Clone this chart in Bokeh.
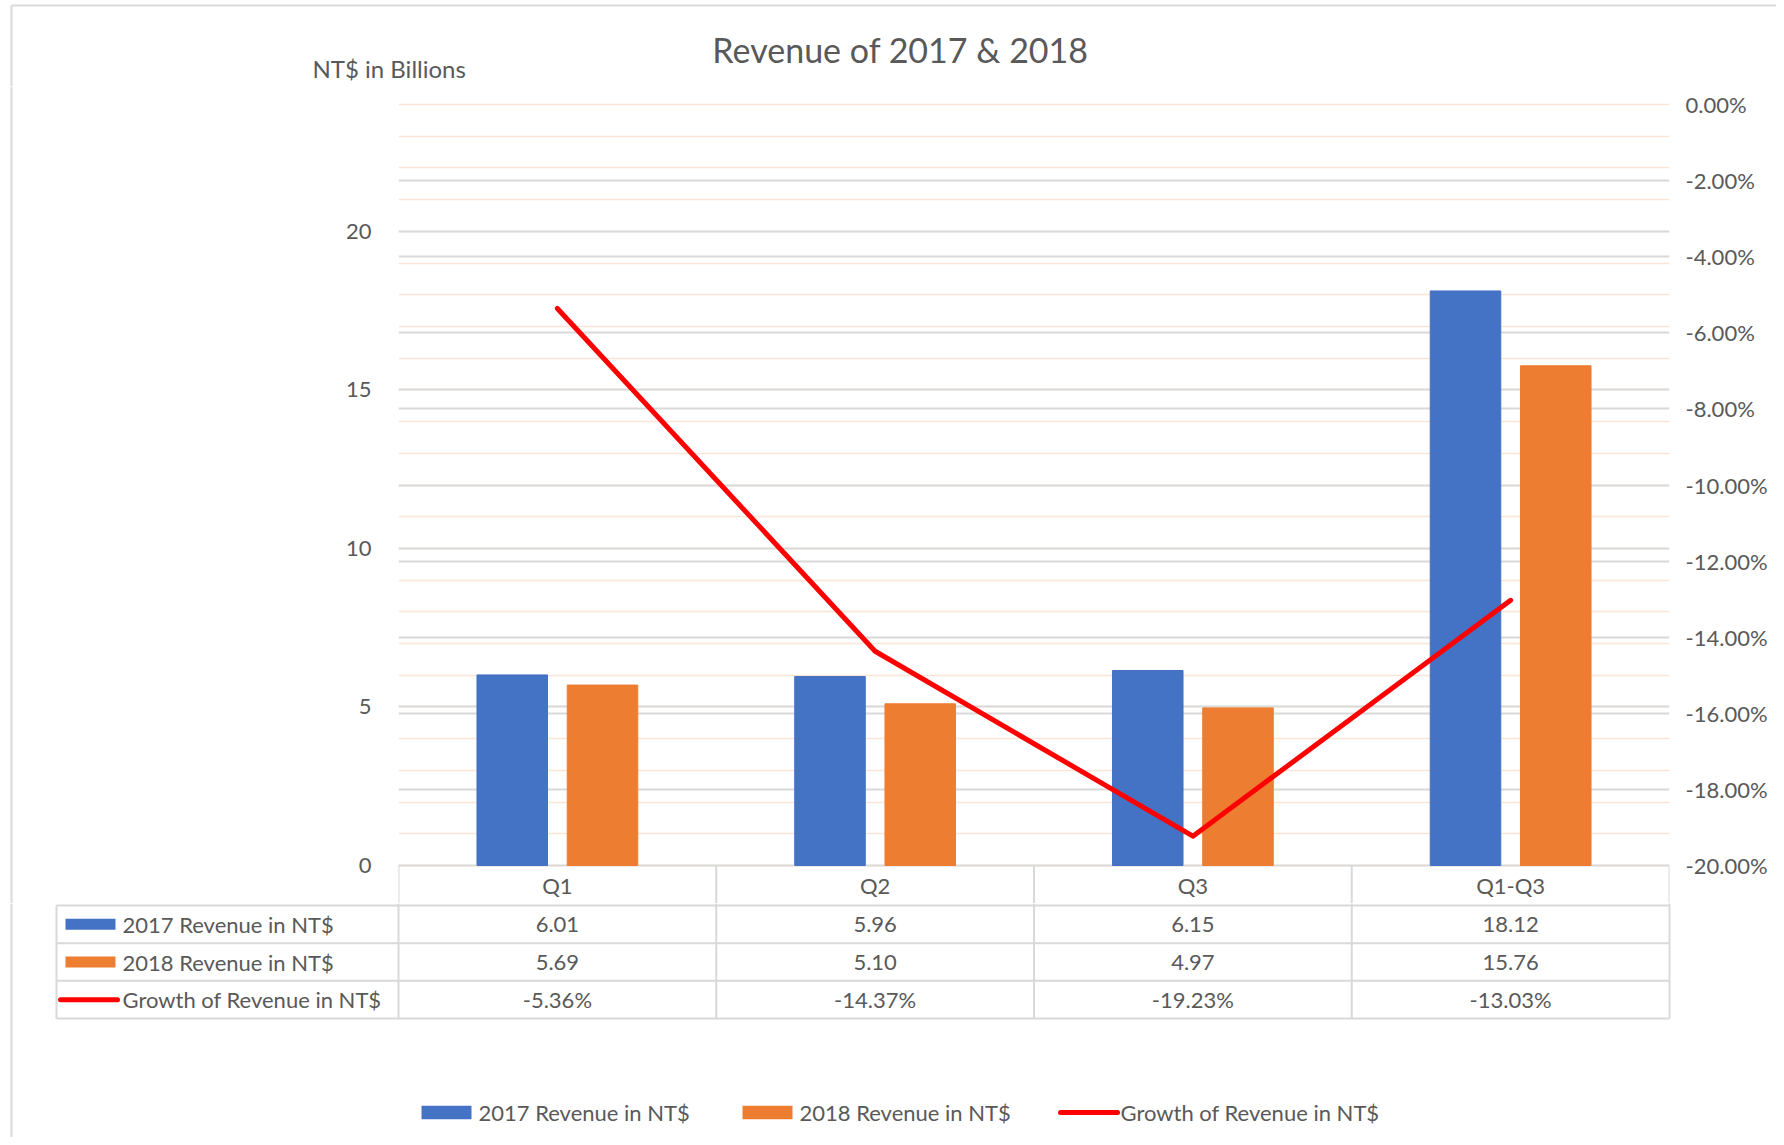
from bokeh.plotting import figure
from bokeh.models import (Range1d, LinearAxis, FixedTicker, NumeralTickFormatter, Grid,
                          ColumnDataSource, FactorRange)
from bokeh.transform import dodge
from bokeh.layouts import column, row
from bokeh.embed import file_html
from bokeh.resources import INLINE
from bokeh.core.properties import value

# ---------------- data ----------------
categories = ["Q1", "Q2", "Q3", "Q1-Q3"]
rev_2017 = [6.01, 5.96, 6.15, 18.12]
rev_2018 = [5.69, 5.10, 4.97, 15.76]
growth = [-0.0536, -0.1437, -0.1923, -0.1303]
series_names = ["2017 Revenue in NT$", "2018 Revenue in NT$", "Growth of  Revenue in NT$"]
left_ticks = [0, 5, 10, 15, 20]
left_minor = list(range(0, 25))
right_ticks = [-0.20, -0.18, -0.16, -0.14, -0.12, -0.10, -0.08, -0.06, -0.04, -0.02, 0.0]
title_text = "Revenue of 2017 & 2018"
y_label_text = "NT$ in Billions"

# ---------------- style ----------------
BLUE, ORANGE, RED = "#4472C4", "#ED7D31", "#FF0000"
TXT = "#595959"
GRID = "#D9D9D9"
MINOR = "#FBE5D6"
BORDER = "#DADADA"
FONT = "Lato"
FS = "22px"

# ---------------- layout (page px) ----------------
PAGE_W = 1776
LEFT_STRIP = 20
BORDER_X, BORDER_Y = 11, 5
FRAME_L, FRAME_R = 398, 1669
TOP_SPLIT = 86
FRAME_T = 98
Y_TOP_PX, Y0_PX = 104, 865
SPLIT = 903
PAGE_BOTTOM = 1137
Y_MAX = 24
R_MIN = -0.20
ppu = (Y0_PX - Y_TOP_PX) / Y_MAX            # px per left unit
ppx = (FRAME_R - FRAME_L) / len(categories)  # px per category
Y_BOTTOM = -(SPLIT - Y0_PX) / ppu
Y_END = Y_MAX + (Y_TOP_PX - FRAME_T) / ppu
rpp = -R_MIN / (Y0_PX - Y_TOP_PX)            # fraction per px on right axis
R_START = R_MIN - (SPLIT - Y0_PX) * rpp
R_END = (Y_TOP_PX - FRAME_T) * rpp


def ux(px):
    return (px - FRAME_L) / ppx


def no_align(p):
    try:
        p.frame_align = False
    except Exception:
        pass


def bare(p):
    p.outline_line_color = None
    p.grid.visible = False
    no_align(p)


# ---------------- title strip ----------------
pT = figure(width=PAGE_W, height=TOP_SPLIT, x_range=Range1d(0, PAGE_W),
            y_range=Range1d(-TOP_SPLIT, 0), x_axis_location=None, y_axis_location=None,
            output_backend="svg", toolbar_location=None, min_border=0)
bare(pT)
pT.segment(x0=[BORDER_X, BORDER_X], x1=[PAGE_W, BORDER_X], y0=[-BORDER_Y, -BORDER_Y],
           y1=[-BORDER_Y, -TOP_SPLIT], line_color=BORDER, line_width=2)
pT.text(x=[900], y=[-49], text=[title_text], text_align="center", text_baseline="middle",
        text_font=value(FONT), text_font_size="34px", text_color=TXT)
pT.text(x=[312], y=[-68], text=[y_label_text], text_align="left", text_baseline="middle",
        text_font=value(FONT), text_font_size="24px", text_color=TXT)

# ---------------- left border strip ----------------
pL = figure(width=LEFT_STRIP, height=SPLIT - TOP_SPLIT, x_range=Range1d(0, LEFT_STRIP),
            y_range=Range1d(0, 1), x_axis_location=None, y_axis_location=None,
            output_backend="svg", toolbar_location=None, min_border=0)
bare(pL)
pL.segment(x0=[BORDER_X], x1=[BORDER_X], y0=[0], y1=[1], line_color=BORDER, line_width=2)

# ---------------- chart figure ----------------
src = ColumnDataSource(dict(cat=categories, r17=rev_2017, r18=rev_2018, g=growth))

pA = figure(width=PAGE_W - LEFT_STRIP, height=SPLIT - TOP_SPLIT,
            x_range=FactorRange(*categories), y_range=Range1d(Y_BOTTOM, Y_END),
            x_axis_location=None, output_backend="svg", toolbar_location=None,
            min_border_left=FRAME_L - LEFT_STRIP, min_border_right=PAGE_W - FRAME_R,
            min_border_top=FRAME_T - TOP_SPLIT, min_border_bottom=0)
pA.outline_line_color = None
pA.xgrid.visible = False
no_align(pA)

ax = pA.yaxis[0]
ax.ticker = FixedTicker(ticks=left_ticks, minor_ticks=left_minor)
ax.axis_line_color = None
ax.major_tick_line_color = None
ax.minor_tick_line_color = None
ax.major_label_text_font = FONT
ax.major_label_text_font_size = FS
ax.major_label_text_color = TXT
ax.major_label_standoff = 21

g = pA.ygrid[0]
g.grid_line_color = GRID
g.grid_line_width = 2
g.minor_grid_line_color = MINOR
g.minor_grid_line_width = 1.5

pA.extra_y_ranges = {"pct": Range1d(R_START, R_END)}
rax = LinearAxis(y_range_name="pct", ticker=FixedTicker(ticks=right_ticks),
                 formatter=NumeralTickFormatter(format="0.00%"))
rax.axis_line_color = None
rax.major_tick_line_color = None
rax.minor_tick_line_color = None
rax.major_label_text_font = FONT
rax.major_label_text_font_size = FS
rax.major_label_text_color = TXT
rax.major_label_standoff = 10
pA.add_layout(rax, "right")

rgrid = Grid(dimension=1, ticker=FixedTicker(ticks=right_ticks[1:-1]), y_range_name="pct",
             grid_line_color=GRID, grid_line_width=2)
pA.add_layout(rgrid)

pA.vbar(x=dodge("cat", -0.142, range=pA.x_range), top="r17", width=0.222, source=src,
        fill_color=BLUE, line_color=BLUE)
pA.vbar(x=dodge("cat", 0.142, range=pA.x_range), top="r18", width=0.222, source=src,
        fill_color=ORANGE, line_color=ORANGE)
pA.line(x="cat", y="g", y_range_name="pct", source=src, line_color=RED, line_width=5,
        line_join="round", line_cap="round")

# header row of the data table (category labels)
hdr_y = -(885 - Y0_PX) / ppu
pA.text(x="cat", y=hdr_y, text="cat", source=src, text_align="center", text_baseline="middle",
        text_font=value(FONT), text_font_size=FS, text_color=TXT)
nb = len(categories) + 1
pA.segment(x0=list(range(nb)), x1=list(range(nb)), y0=[0] * nb, y1=[Y_BOTTOM] * nb,
           line_color=GRID, line_width=2)

# ---------------- table + legend figure ----------------
ROW_TOP = 905
ROW_H = (1018 - 905) / 3
FB_L, FB_R = 0, 1680
YB0 = -(PAGE_BOTTOM - ROW_TOP) / ROW_H
YB1 = (ROW_TOP - SPLIT) / ROW_H
pB = figure(width=PAGE_W, height=PAGE_BOTTOM - SPLIT,
            x_range=Range1d(ux(FB_L), ux(FB_R)), y_range=Range1d(YB0, YB1),
            x_axis_location=None, y_axis_location=None, output_backend="svg",
            toolbar_location=None, min_border_left=FB_L,
            min_border_right=PAGE_W - FB_R, min_border_top=0, min_border_bottom=0)
bare(pB)
pB.segment(x0=[ux(BORDER_X)], x1=[ux(BORDER_X)], y0=[YB1], y1=[YB0], line_color=BORDER,
           line_width=2)

XH = ux(56)
n = len(categories)
pB.segment(x0=[XH] * 4, x1=[n] * 4, y0=[0, -1, -2, -3], y1=[0, -1, -2, -3],
           line_color=GRID, line_width=2)
pB.segment(x0=[XH] + list(range(nb)), x1=[XH] + list(range(nb)),
           y0=[0] + [YB1] * nb, y1=[-3] * (nb + 1), line_color=GRID, line_width=2)

centers = [i + 0.5 for i in range(n)]
rows = [[f"{v:.2f}" for v in rev_2017], [f"{v:.2f}" for v in rev_2018],
        [f"{v * 100:.2f}%" for v in growth]]
for r, vals in enumerate(rows):
    pB.text(x=centers, y=[-r - 0.5] * n, text=vals, text_align="center", text_baseline="middle",
            text_font=value(FONT), text_font_size=FS, text_color=TXT)
pB.text(x=[ux(122)] * 3, y=[-0.5, -1.5, -2.5], text=series_names, text_align="left",
        text_baseline="middle", text_font=value(FONT), text_font_size=FS, text_color=TXT)
hh = 5.5 / ROW_H
pB.quad(left=[ux(65)] * 2, right=[ux(115)] * 2, top=[-0.5 + hh, -1.5 + hh],
        bottom=[-0.5 - hh, -1.5 - hh], fill_color=[BLUE, ORANGE], line_color=None)
pB.segment(x0=[ux(60)], x1=[ux(117)], y0=[-2.5], y1=[-2.5], line_color=RED, line_width=5,
           line_cap="round")

# bottom legend (series key)
ly = -(1112 - ROW_TOP) / ROW_H
lh = 6.8 / ROW_H
pB.quad(left=[ux(421), ux(742)], right=[ux(471), ux(792)], top=[ly + lh] * 2,
        bottom=[ly - lh] * 2, fill_color=[BLUE, ORANGE], line_color=None)
pB.segment(x0=[ux(1060)], x1=[ux(1117)], y0=[ly], y1=[ly], line_color=RED, line_width=5,
           line_cap="round")
pB.text(x=[ux(478), ux(799), ux(1120)], y=[ly] * 3, text=series_names, text_align="left",
        text_baseline="middle", text_font=value(FONT), text_font_size=FS, text_color=TXT)

layout = column(pT, row(pL, pA, spacing=0), pB, spacing=0)
open("out.html", "w").write(file_html(layout, INLINE))
